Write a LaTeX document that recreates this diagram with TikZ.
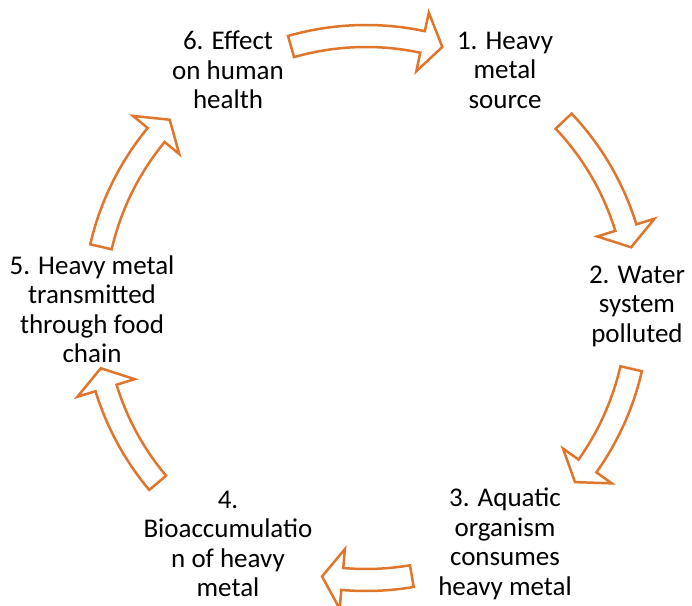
\documentclass[tikz,border=0pt]{standalone}
\usepackage{fontspec}
\setmainfont{Carlito}
\usepackage{xcolor}
\definecolor{arrowline}{RGB}{224,118,43}

\begin{document}
\begin{tikzpicture}[x=1pt,y=1pt,
    steptext/.style={align=center,inner sep=0pt,font=\fontsize{27}{29.5}\selectfont},
    cyclearrow/.style={draw=arrowline,line width=2.5pt,fill=white,line join=miter}]
    \useasboundingbox (0,0) rectangle (692,605);
    \node[steptext] (source) at (505,535) {1. Heavy\\metal\\source};
    \node[steptext] (water) at (637,299) {2. Water\\system\\polluted};
    \node[steptext] (aquatic) at (505,61) {3. Aquatic\\organism\\consumes\\heavy metal};
    \node[steptext] (bioacc) at (228,61) {4.\\Bioaccumulatio\\n of heavy\\metal};
    \node[steptext] (chain) at (92,296) {5. Heavy metal\\transmitted\\through food\\chain};
    \node[steptext] (health) at (228,535) {6. Effect\\on human\\health};
    \coordinate (centre) at (366,297);
    % curved block arrows between the steps, tail angle / tip angle
    \begin{scope}[shift={(centre)}]
    \foreach \ta/\tb in {106/73.7, 43.4/12.9, -12.9/-39.8, -80.3/-99.3, -140/-167.2, 167/136.2} {
        \pgfmathsetmacro{\hb}{\tb+4.3}
        \draw[cyclearrow] (\ta:283) arc[start angle=\ta, end angle=\hb, radius=283]
            -- (\hb:302) -- (\tb:272) -- (\hb:242) -- (\hb:261)
            arc[start angle=\hb, end angle=\ta, radius=261] -- cycle;
    }
    \end{scope}
\end{tikzpicture}
\end{document}
